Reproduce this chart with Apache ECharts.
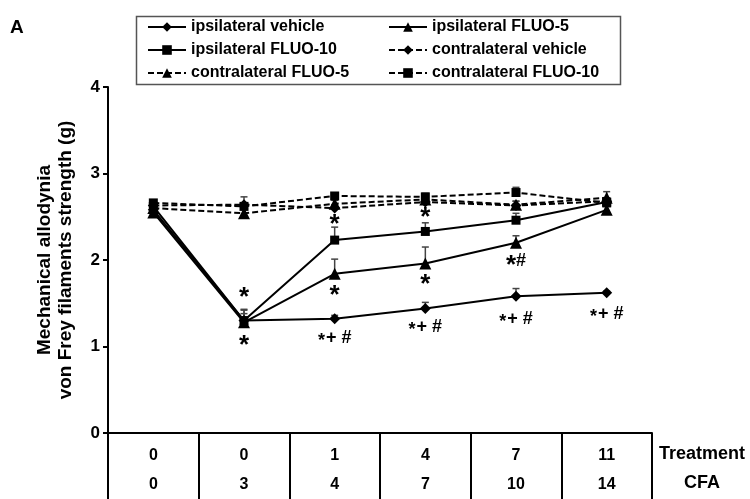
<!DOCTYPE html>
<html>
<head>
<meta charset="utf-8">
<script src="https://cdn.jsdelivr.net/npm/echarts@6/dist/echarts.min.js"></script>
<style>html,body{margin:0;padding:0;background:#fff}#c{width:750px;height:499px}</style>
</head>
<body>
<div id="c"></div>
<script>
var treatmentLabels = ['0', '0', '1', '4', '7', '11'];
var cfaLabels = ['0', '3', '4', '7', '10', '14'];
var yTicks = [0, 1, 2, 3, 4];

var ipsiVehicle = [2.58, 1.30, 1.32, 1.44, 1.58, 1.62];
var ipsiVehicleErr = [0.03, 0.12, 0.04, 0.07, 0.09, 0.02];
var ipsiFluo5 = [2.55, 1.28, 1.84, 1.96, 2.20, 2.58];
var ipsiFluo5Err = [0.03, 0.10, 0.17, 0.19, 0.08, 0.04];
var ipsiFluo10 = [2.62, 1.30, 2.23, 2.33, 2.46, 2.67];
var ipsiFluo10Err = [0.03, 0.13, 0.15, 0.10, 0.08, 0.03];
var contraVehicle = [2.63, 2.64, 2.60, 2.67, 2.63, 2.68];
var contraVehicleErr = [0.03, 0.09, 0.04, 0.04, 0.05, 0.04];
var contraFluo5 = [2.60, 2.54, 2.65, 2.70, 2.64, 2.72];
var contraFluo5Err = [0.03, 0.04, 0.04, 0.04, 0.04, 0.07];
var contraFluo10 = [2.66, 2.62, 2.74, 2.73, 2.78, 2.66];
var contraFluo10Err = [0.03, 0.04, 0.03, 0.04, 0.06, 0.04];

// significance annotations: [category index, y value, text]
var annotations = [
  [1, 1.62, '*'], [1, 1.06, '*'],
  [2, 2.46, '*'], [2, 1.64, '*'], [2, 1.10, '*+ #'],
  [3, 2.54, '*'], [3, 1.77, '*'], [3, 1.22, '*+ #'],
  [4, 1.99, '*#'], [4, 1.32, '*+ #'],
  [5, 1.38, '*+ #']
];

var FONT = "'Liberation Sans', Arial, sans-serif";

var seriesDefs = [
  {name: 'ipsilateral vehicle', data: ipsiVehicle, err: ipsiVehicleErr, symbol: 'diamond', size: 11, dash: 'solid'},
  {name: 'ipsilateral FLUO-5', data: ipsiFluo5, err: ipsiFluo5Err, symbol: 'triangle', size: 12, dash: 'solid'},
  {name: 'ipsilateral FLUO-10', data: ipsiFluo10, err: ipsiFluo10Err, symbol: 'rect', size: 9, dash: 'solid'},
  {name: 'contralateral vehicle', data: contraVehicle, err: contraVehicleErr, symbol: 'diamond', size: 11, dash: [6, 3]},
  {name: 'contralateral FLUO-5', data: contraFluo5, err: contraFluo5Err, symbol: 'triangle', size: 12, dash: [6, 3]},
  {name: 'contralateral FLUO-10', data: contraFluo10, err: contraFluo10Err, symbol: 'rect', size: 9, dash: [6, 3]}
];

var series = [];
seriesDefs.forEach(function (d) {
  var errData = d.data.map(function (v, i) { return [i, v, v + d.err[i]]; });
  series.push({
    type: 'custom',
    silent: true,
    z: 1,
    data: errData,
    encode: {x: 0, y: [1, 2]},
    renderItem: function (params, api) {
      var x = api.value(0);
      var p0 = api.coord([x, api.value(1)]);
      var p1 = api.coord([x, api.value(2)]);
      var hw = 3.5;
      return {
        type: 'group',
        children: [
          {type: 'line', shape: {x1: p0[0], y1: p0[1], x2: p1[0], y2: p1[1]}, style: {stroke: '#444', lineWidth: 1.5}},
          {type: 'line', shape: {x1: p1[0] - hw, y1: p1[1], x2: p1[0] + hw, y2: p1[1]}, style: {stroke: '#444', lineWidth: 1.5}}
        ]
      };
    }
  });
  series.push({
    name: d.name,
    type: 'line',
    z: 3,
    data: d.data,
    symbol: d.symbol,
    symbolSize: d.size,
    showSymbol: true,
    lineStyle: {color: '#000', width: 2, type: d.dash},
    itemStyle: {color: '#000'},
    emphasis: {disabled: true},
    animation: false
  });
});

series.push({
  type: 'custom',
  silent: true,
  z: 5,
  data: annotations.map(function (a) { return [a[0], a[1]]; }),
  encode: {x: 0, y: 1},
  renderItem: function (params, api) {
    var p = api.coord([api.value(0), api.value(1)]);
    var t = annotations[params.dataIndex][2];
    var txt;
    if (t === '*') txt = '{big|*}';
    else if (t === '*#') txt = '{big|*}{n|#}';
    else txt = '{s|*}{n|+ #}';
    return {
      type: 'text',
      x: p[0], y: p[1],
      style: {
        text: txt,
        align: 'center',
        verticalAlign: 'middle',
        fill: '#000',
        rich: {
          big: {fontSize: 26, fontWeight: 'bold', fontFamily: FONT, fill: '#000', padding: [10, 0, 0, 0]},
          s: {fontSize: 18, fontWeight: 'bold', fontFamily: FONT, fill: '#000', padding: [6, 1, 0, 0]},
          n: {fontSize: 18, fontWeight: 'bold', fontFamily: FONT, fill: '#000'}
        }
      }
    };
  }
});

var legendText = {color: '#000', fontSize: 16, fontWeight: 'bold', fontFamily: FONT};

var option = {
  backgroundColor: '#fff',
  animation: false,
  grid: {left: 108, right: 98, top: 87, bottom: 66},
  legend: [
    {orient: 'vertical', left: 142, top: 14, itemWidth: 38, itemHeight: 12, itemGap: 7,
     data: ['ipsilateral vehicle', 'ipsilateral FLUO-10', 'contralateral FLUO-5'], textStyle: legendText, selectedMode: false},
    {orient: 'vertical', left: 383, top: 14, itemWidth: 38, itemHeight: 12, itemGap: 7,
     data: ['ipsilateral FLUO-5', 'contralateral vehicle', 'contralateral FLUO-10'], textStyle: legendText, selectedMode: false}
  ],
  xAxis: {
    type: 'category',
    data: treatmentLabels,
    boundaryGap: true,
    axisLine: {lineStyle: {color: '#000', width: 2}},
    axisTick: {show: true, length: 66, lineStyle: {color: '#000', width: 2}},
    axisLabel: {
      margin: 8,
      formatter: function (v, i) { return '{a|' + v + '}\n{a|' + cfaLabels[i] + '}'; },
      rich: {a: {fontSize: 16, fontWeight: 'bold', fontFamily: FONT, color: '#000', lineHeight: 29}}
    },
    splitLine: {show: false}
  },
  yAxis: {
    type: 'value',
    min: yTicks[0],
    max: yTicks[yTicks.length - 1],
    interval: 1,
    name: 'Mechanical allodynia\nvon Frey filaments strength (g)',
    nameLocation: 'middle',
    nameGap: 32,
    nameTextStyle: {fontSize: 19, fontWeight: 'bold', fontFamily: FONT, color: '#000', lineHeight: 21},
    axisLine: {show: true, lineStyle: {color: '#000', width: 2}},
    axisTick: {show: true, length: 5, lineStyle: {color: '#000', width: 2}},
    axisLabel: {fontSize: 17, fontWeight: 'bold', fontFamily: FONT, color: '#000', margin: 8},
    splitLine: {show: false}
  },
  graphic: [
    {type: 'rect', left: 134, top: 14, shape: {width: 484, height: 68}, style: {fill: 'none', stroke: '#555', lineWidth: 1.5}, silent: true},
    {type: 'text', left: 10, top: 18, style: {text: 'A', fontSize: 19, fontWeight: 'bold', fontFamily: FONT, fill: '#000'}},
    {type: 'text', left: 659, top: 445, style: {text: 'Treatment', fontSize: 18, fontWeight: 'bold', fontFamily: FONT, fill: '#000'}},
    {type: 'text', left: 684, top: 474, style: {text: 'CFA', fontSize: 18, fontWeight: 'bold', fontFamily: FONT, fill: '#000'}}
  ],
  series: series
};

var chart = echarts.init(document.getElementById('c'), null, {renderer: 'canvas'});
chart.setOption(option);
</script>
</body>
</html>
